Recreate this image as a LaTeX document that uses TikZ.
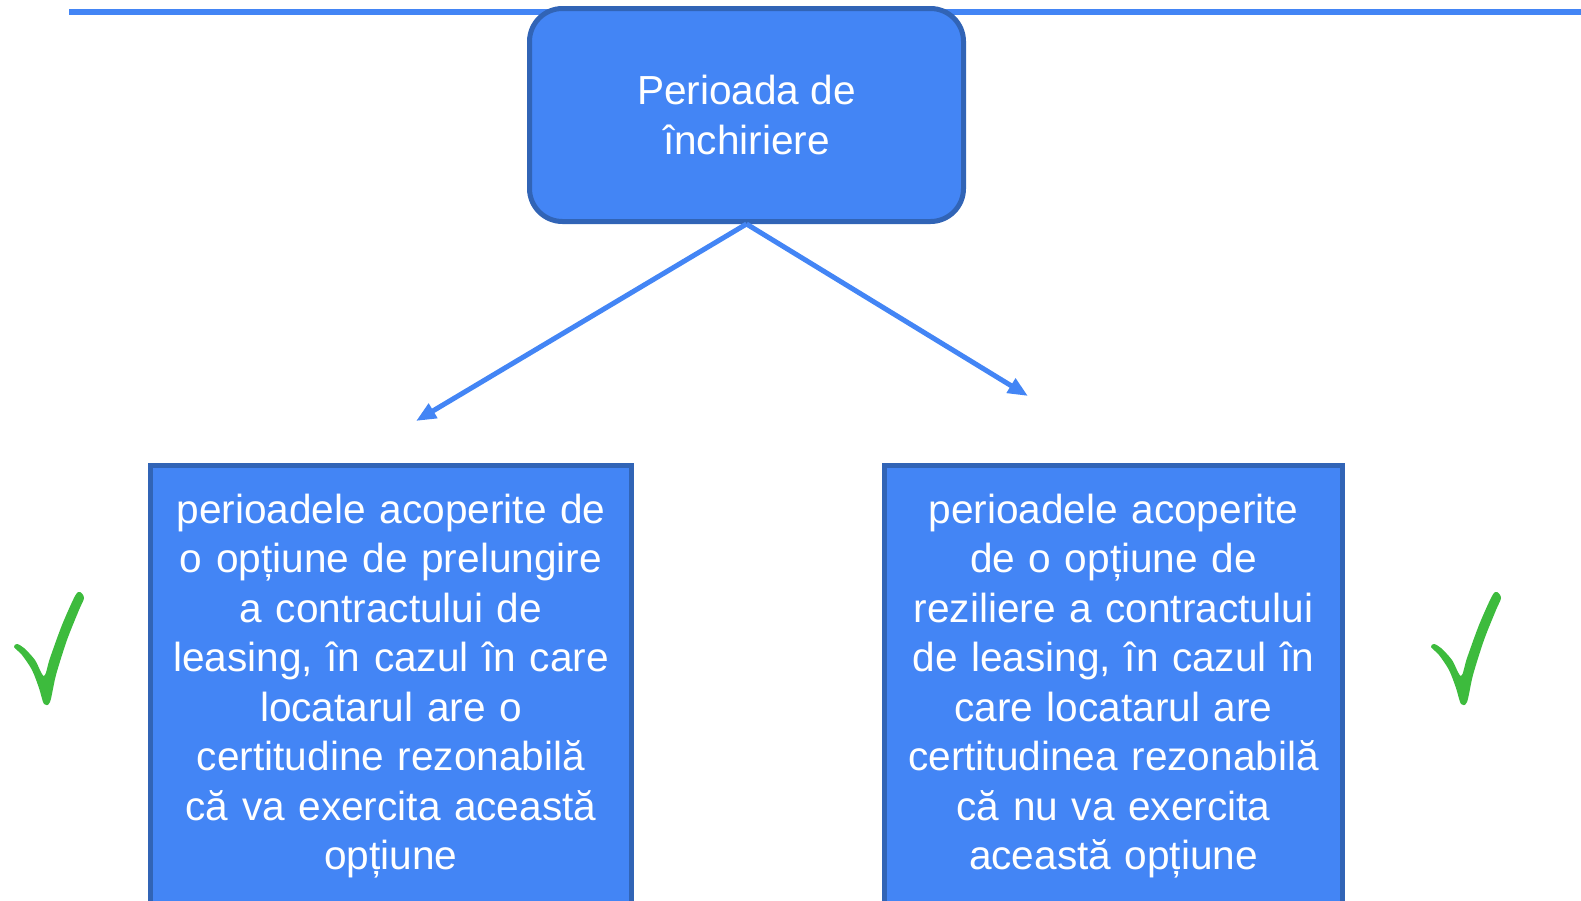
\documentclass[tikz,border=0pt]{standalone}
\usepackage{fontspec}
\setmainfont{Liberation Sans}
\usetikzlibrary{arrows.meta}
\definecolor{boxfill}{HTML}{4385F5}
\definecolor{boxline}{HTML}{3164B6}
\definecolor{arrowblue}{HTML}{4385F5}
\definecolor{checkgreen}{HTML}{3DBB3D}
\tikzset{
  topbox/.style={draw=boxline, fill=boxfill, line width=5pt, rounded corners=33pt,
    text=white, align=center, font=\fontsize{40.6}{49.5}\selectfont, inner sep=0pt},
  bottombox/.style={draw=boxline, fill=boxfill, line width=5pt, inner sep=0pt,
    outer sep=0pt, anchor=north},
  boxtext/.style={text=white, align=center, text width=480pt, inner sep=0pt,
    font=\fontsize{40.6}{49.5}\selectfont, anchor=base},
  topline/.style={draw=arrowblue, line width=6pt},
  arrowline/.style={draw=arrowblue, line width=5pt, -{Triangle[length=20pt,width=16pt]}},
  checkmk/.pic={
    \fill[checkgreen] plot[smooth cycle, tension=0.5] coordinates {
      (14,647) (22,655) (32,670) (39,688) (44,704) (50,702) (56,675) (67,640)
      (79,610) (84,598) (80,592) (75,596) (62,625) (50,658) (44,676) (35,660)
      (24,648) (17,644)};
  }
}
\begin{document}
\begin{tikzpicture}[x=1pt,y=-1pt]
\useasboundingbox (0,0) rectangle (1581,900);
\clip (0,0) rectangle (1581,900);
% top rule
\coordinate (lineL) at (69,12);
\coordinate (lineR) at (1581,12);
\draw[topline] (lineL) -- (lineR);
% top box
\node[topbox, minimum width=434pt, minimum height=213pt] (T) at (746.5,115) {Perioada de\\închiriere};
% bottom boxes
\node[bottombox, minimum width=481pt, minimum height=480pt] (L) at (391,465.5) {};
\node[boxtext] (Ltxt) at (391,523) {perioadele acoperite de\\o opțiune de prelungire\\a contractului de\\leasing, în cazul în care\\locatarul are o\\certitudine rezonabilă\\că va exercita această\\opțiune};
\node[bottombox, minimum width=458pt, minimum height=480pt] (R) at (1113.5,465.5) {};
\node[boxtext] (Rtxt) at (1113.5,523) {perioadele acoperite\\de o opțiune de\\reziliere a contractului\\de leasing, în cazul în\\care locatarul are\\certitudinea rezonabilă\\că nu va exercita\\această opțiune};
% arrows
\coordinate (la) at (416,421);
\coordinate (ra) at (1028,396);
\draw[arrowline] (T.south) -- (la);
\draw[arrowline] (T.south) -- (ra);
% checkmarks
\pic at (0,0) {checkmk};
\pic at (1417,0) {checkmk};
\end{tikzpicture}
\end{document}
